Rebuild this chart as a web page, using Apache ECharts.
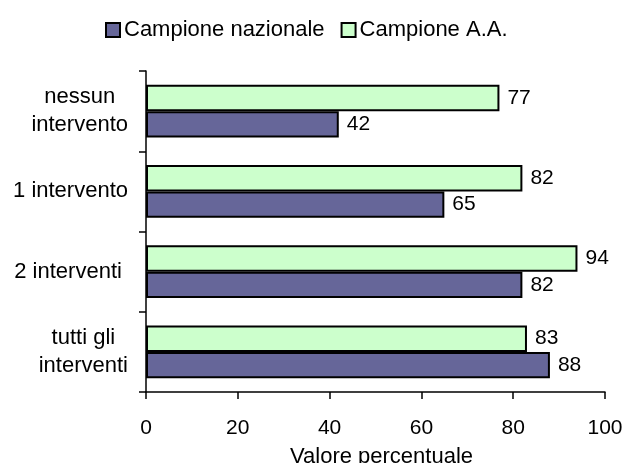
<!DOCTYPE html>
<html>
<head>
<meta charset="utf-8">
<style>
  html, body { margin: 0; padding: 0; background: #ffffff; }
  #chart { width: 627px; height: 463px; }
</style>
<script src="https://cdn.jsdelivr.net/npm/echarts@6/dist/echarts.min.js"></script>
</head>
<body>
<div id="chart"></div>
<script>
// Categories listed bottom to top along the vertical axis
var categories = ['tutti gli\ninterventi', '2 interventi ', '1 intervento', 'nessun\nintervento'];
var nazionale = [88, 82, 65, 42];
var campioneAA = [83, 94, 82, 77];
var xTicks = [0, 20, 40, 60, 80, 100];

var FONT = 'Liberation Sans, Arial, sans-serif';
var chart = echarts.init(document.getElementById('chart'), null, { renderer: 'canvas' });

var valueLabel = {
  show: true,
  position: 'right',
  distance: 8,
  color: '#000',
  fontFamily: FONT,
  fontSize: 21
};

chart.setOption({
  animation: false,
  backgroundColor: '#ffffff',
  textStyle: { fontFamily: FONT },
  legend: {
    top: 14,
    left: 100,
    itemWidth: 14,
    itemHeight: 14,
    itemGap: 16,
    icon: 'rect',
    textStyle: { fontFamily: FONT, fontSize: 22, color: '#000', padding: [0, 0, 0, -1] },
    data: ['Campione nazionale', 'Campione A.A.']
  },
  grid: {
    left: 146,
    right: 22,
    top: 71,
    bottom: 71,
    containLabel: false,
    outerBoundsMode: 'none'
  },
  xAxis: {
    type: 'value',
    min: xTicks[0],
    max: xTicks[xTicks.length - 1],
    interval: 20,
    splitLine: { show: false },
    axisLine: { show: true, lineStyle: { color: '#000', width: 1.5 } },
    axisTick: { show: true, length: 7, lineStyle: { color: '#000', width: 1.5 } },
    axisLabel: { color: '#000', fontFamily: FONT, fontSize: 21, margin: 26 },
    name: 'Valore percentuale',
    nameLocation: 'middle',
    nameGap: 54,
    nameTextStyle: { color: '#000', fontFamily: FONT, fontSize: 22, padding: [0, 0, 0, 12] }
  },
  yAxis: {
    type: 'category',
    data: categories,
    axisLine: { show: true, lineStyle: { color: '#000', width: 1.5 } },
    axisTick: { show: true, length: 7, lineStyle: { color: '#000', width: 1.5 } },
    axisLabel: {
      margin: 18,
      color: '#000',
      fontFamily: FONT,
      fontSize: 22,
      formatter: function (v) {
        if (v.indexOf('\n') < 0) return v;
        return v.split('\n').map(function (s) { return '{c|' + s + '}'; }).join('\n');
      },
      rich: {
        c: { align: 'center', fontFamily: FONT, fontSize: 22, color: '#000', lineHeight: 28 }
      }
    }
  },
  series: [
    // Series order sets the stacking within each band: the first one sits on top
    {
      name: 'Campione A.A.',
      type: 'bar',
      data: campioneAA,
      barGap: '0%',
      barCategoryGap: '34%',
      itemStyle: { color: '#ccffcc', borderColor: '#000', borderWidth: 2 },
      label: valueLabel
    },
    {
      name: 'Campione nazionale',
      type: 'bar',
      data: nazionale,
      barGap: '0%',
      barCategoryGap: '34%',
      itemStyle: { color: '#666699', borderColor: '#000', borderWidth: 2 },
      label: valueLabel
    }
  ]
});
</script>
</body>
</html>
